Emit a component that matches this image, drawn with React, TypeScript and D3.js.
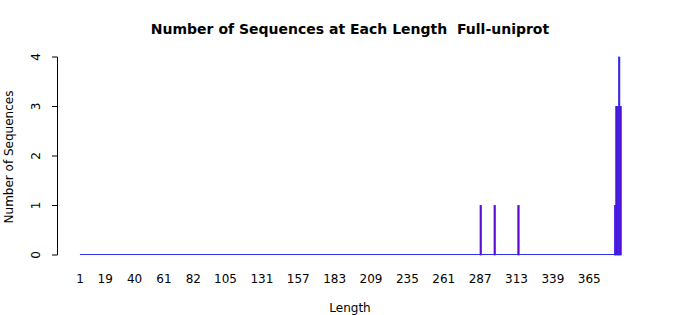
import React from "react";
import * as d3 from "d3";

const title = "Number of Sequences at Each Length  Full-uniprot";
const minLength = 1;
const maxLength = 387;
const observedLengths = [287, 297, 314, 383, 384, 385, 386, 387];
const observedCounts = [1, 1, 1, 1, 3, 3, 4, 3];
const xTickLabels = [1, 19, 40, 61, 82, 105, 131, 157, 183, 209, 235, 261, 287, 313, 339, 365];
const yTicks = [0, 1, 2, 3, 4];

export default function App() {
  const W = 700, H = 315;
  const x = d3.scaleLinear().domain([minLength, maxLength]).range([80.6, 620.6]);
  const y = d3.scaleLinear().domain([0, 4]).range([255, 57]);
  const step = x(2) - x(1);
  const countMap = new Map<number, number>();
  observedLengths.forEach((l, i) => countMap.set(l, observedCounts[i]));
  const all = d3.range(minLength, maxLength + 1).map((l) => ({ l, c: countMap.get(l) ?? 0 }));
  const font = "DejaVu Sans, sans-serif";
  return (
    <svg width={W} height={H} style={{ position: "absolute", left: 0, top: 0, background: "#fff" }} fontFamily={font}>
      <text x={350} y={34} textAnchor="middle" fontSize={14} fontWeight="bold" style={{ whiteSpace: "pre" }}>{title}</text>
      <line x1={x(minLength) - step / 2} x2={x(maxLength) + step / 2} y1={y(0) - 0.5} y2={y(0) - 0.5} stroke="#3030f0" strokeWidth={1} />
      {all.filter((d) => d.c > 0).map((d) => (
        <rect key={"b" + d.l} x={x(d.l) - step / 2} y={y(d.c)} width={step} height={y(0) - y(d.c)} fill="#7000c0" stroke="#2828f0" strokeWidth={0.7} />
      ))}
      <line x1={57.5} x2={57.5} y1={y(4)} y2={y(0)} stroke="#000" />
      {yTicks.map((t) => (
        <g key={t}>
          <line x1={52} x2={57.5} y1={y(t)} y2={y(t)} stroke="#000" />
          <text transform={`translate(40,${y(t)}) rotate(-90)`} textAnchor="middle" fontSize={12}>{t}</text>
        </g>
      ))}
      {xTickLabels.map((t) => (
        <text key={t} x={x(t) - 0.6} y={283} textAnchor="middle" fontSize={12}>{t}</text>
      ))}
      <text x={350} y={312} textAnchor="middle" fontSize={12}>Length</text>
      <text transform={`translate(13,157) rotate(-90)`} textAnchor="middle" fontSize={12}>Number of Sequences</text>
    </svg>
  );
}
